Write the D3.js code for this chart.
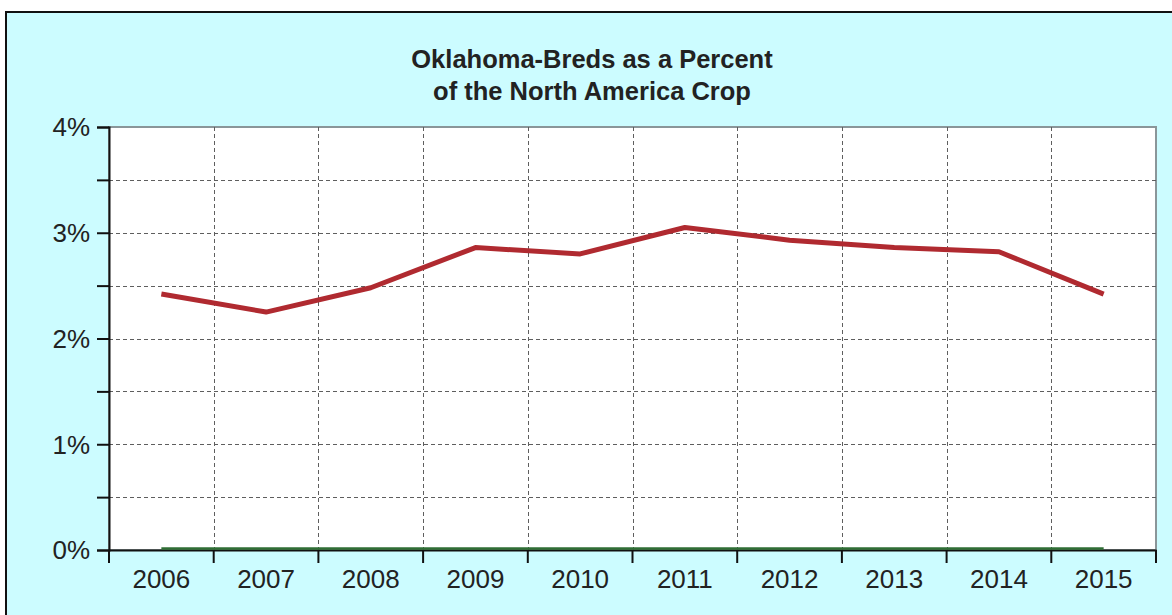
<!DOCTYPE html>
<html>
<head>
<meta charset="utf-8">
<script src="https://cdn.jsdelivr.net/npm/d3@7"></script>
<style>
  body { margin: 0; background: #fff; }
  text { font-family: "Liberation Sans", Arial, sans-serif; fill: #222; }
</style>
</head>
<body>
<div id="chart"></div>
<script>
// data
var years = ["2006", "2007", "2008", "2009", "2010", "2011", "2012", "2013", "2014", "2015"];
var okPercent = [2.42, 2.25, 2.48, 2.86, 2.80, 3.05, 2.93, 2.86, 2.82, 2.42];
var zeroSeries = [0, 0, 0, 0, 0, 0, 0, 0, 0, 0];
var yTicks = [0, 0.5, 1, 1.5, 2, 2.5, 3, 3.5, 4];
var yLabels = [0, 1, 2, 3, 4];
var titleLines = ["Oklahoma-Breds as a Percent", "of the North America Crop"];

var W = 1172, H = 615;
var plotL = 109, plotR = 1156, plotT = 127, plotB = 550;

var svg = d3.select("#chart").append("svg").attr("width", W).attr("height", H);

// cyan frame
svg.append("rect").attr("x", 6).attr("y", 12).attr("width", W + 10).attr("height", H)
  .attr("fill", "#ccfcff").attr("stroke", "#111").attr("stroke-width", 2);

var x = d3.scaleBand().domain(years).range([plotL, plotR]);
var y = d3.scaleLinear().domain([0, 4]).range([plotB, plotT]);

// plot area
svg.append("rect").attr("x", plotL).attr("y", plotT)
  .attr("width", plotR - plotL).attr("height", plotB - plotT)
  .attr("fill", "#fff").attr("stroke", "#8a9699").attr("stroke-width", 2);

// grid
var grid = svg.append("g").attr("stroke", "#5e5e5e").attr("stroke-width", 1)
  .attr("stroke-dasharray", "4,3");
grid.selectAll("line.h").data(yTicks.slice(1, -1)).enter().append("line")
  .attr("x1", plotL).attr("x2", plotR)
  .attr("y1", function(d) { return Math.round(y(d)) + 0.5; })
  .attr("y2", function(d) { return Math.round(y(d)) + 0.5; });
grid.selectAll("line.v").data(years.slice(1)).enter().append("line")
  .attr("y1", plotT).attr("y2", plotB)
  .attr("x1", function(d) { return Math.round(x(d)) + 0.5; })
  .attr("x2", function(d) { return Math.round(x(d)) + 0.5; });

// series
var line = d3.line()
  .x(function(d, i) { return x(years[i]) + x.bandwidth() / 2; })
  .y(function(d) { return y(d); });

svg.append("path").datum(okPercent).attr("d", line)
  .attr("fill", "none").attr("stroke", "#b02a30").attr("stroke-width", 5)
  .attr("stroke-linejoin", "round");

// y axis
var yAxis = svg.append("g").attr("transform", "translate(" + plotL + ",0)")
  .call(d3.axisLeft(y).tickValues(yTicks).tickSize(12).tickFormat(""));
yAxis.selectAll("line").attr("stroke", "#111").attr("stroke-width", 2);
yAxis.select(".domain").attr("stroke", "#111").attr("stroke-width", 2);

svg.selectAll("text.ylab").data(yLabels).enter().append("text")
  .attr("x", 90).attr("y", function(d) { return y(d); }).attr("dy", "0.36em")
  .attr("text-anchor", "end").style("font-size", "26px")
  .text(function(d) { return d + "%"; });

// x axis
var xAxis = svg.append("g").attr("transform", "translate(0," + plotB + ")")
  .call(d3.axisBottom(x).tickSize(0).tickFormat(""));
xAxis.select(".domain").attr("stroke", "#111").attr("stroke-width", 2);
xAxis.selectAll("line.xt").data(years.concat(["end"])).enter().append("line")
  .attr("class", "xt")
  .attr("x1", function(d, i) { return i < years.length ? x(d) : plotR; })
  .attr("x2", function(d, i) { return i < years.length ? x(d) : plotR; })
  .attr("y1", 0).attr("y2", 13).attr("stroke", "#111").attr("stroke-width", 2);

// zero series sits just above the axis line
svg.append("path").datum(zeroSeries).attr("d", line)
  .attr("transform", "translate(0,-1.5)")
  .attr("fill", "none").attr("stroke", "#2f6e34").attr("stroke-width", 2.5);

svg.selectAll("text.xlab").data(years).enter().append("text")
  .attr("x", function(d) { return x(d) + x.bandwidth() / 2; }).attr("y", 588)
  .attr("text-anchor", "middle").style("font-size", "26px")
  .text(function(d) { return d; });

// title
svg.selectAll("text.title").data(titleLines).enter().append("text")
  .attr("x", 592).attr("y", function(d, i) { return 68 + i * 32; })
  .attr("text-anchor", "middle").style("font-size", "25.5px").style("font-weight", "bold")
  .text(function(d) { return d; });
</script>
</body>
</html>
